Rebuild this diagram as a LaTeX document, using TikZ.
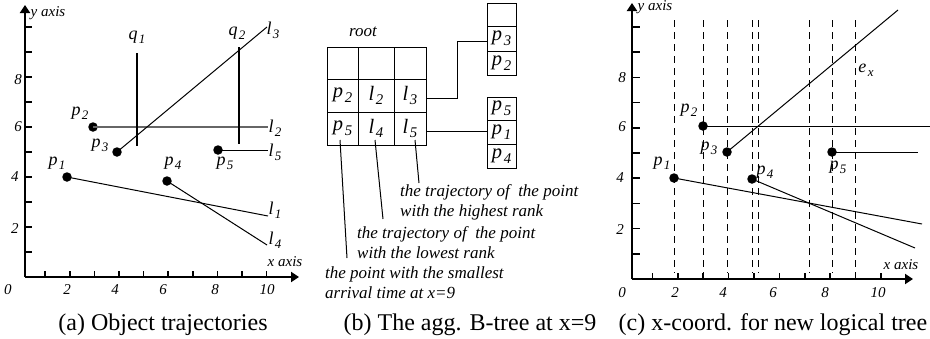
\documentclass[tikz,border=0pt]{standalone}
\usepackage{fontspec}
\setmainfont{Liberation Serif}
\usetikzlibrary{arrows.meta}
\makeatletter
\newcommand{\sbx}[2]{#1\kern0.08em\raisebox{-0.5ex}{\fontsize{\fpeval{0.72*\f@size}}{1}\selectfont #2}}
\makeatother
\begin{document}
\begin{tikzpicture}[x=1pt,y=-1pt,
  lbl/.style={font=\fontsize{18}{20}\selectfont\itshape, inner sep=0pt},
  ital/.style={font=\fontsize{17}{20}\selectfont\itshape, inner sep=0pt, align=left},
  num/.style={font=\fontsize{15}{17}\selectfont\itshape, inner sep=0pt},
  captext/.style={font=\fontsize{24}{26}\selectfont, inner sep=0pt, anchor=base},
  dot/.style={circle, fill=black, inner sep=0pt, minimum size=9.5pt},
  axisline/.style={line width=2pt, -{Triangle[length=8pt,width=10pt]}},
  tickm/.style={line width=1.6pt},
  traj/.style={line width=1pt},
  qbar/.style={line width=2.6pt},
  dashv/.style={line width=1pt, dash pattern=on 7pt off 5pt},
  cell/.style={draw, line width=1pt, inner sep=0pt, font=\fontsize{20.5}{21}\selectfont\itshape},
]
\useasboundingbox (0,0) rectangle (930,338);

% ---------------- panel (a) ----------------
\coordinate (aO) at (25,277);
\coordinate (aY) at (25,5);
\coordinate (aX) at (299,277);
\draw[axisline] (aO) -- (aY);
\draw[axisline] (aO) -- (aX);
\foreach \k in {1,...,10} \draw[tickm] (25,{277-25*\k}) -- ++(7,0);
\foreach \k in {1,...,10} \draw[tickm] ({20.5+24.6*\k},277) -- ++(0,-6);
\node[num] at (48,13) {y axis};
\node[num] at (285,262) {x axis};
\node[num] at (8,290) {0};
\node[num] at (67,290) {2};
\node[num] at (115,290) {4};
\node[num] at (163,290) {6};
\node[num] at (215,290) {8};
\node[num] at (267,290) {10};
\node[num] at (15,229) {2};
\node[num] at (15,177) {4};
\node[num] at (18,127) {6};
\node[num] at (18,80) {8};

\node[dot] (ap1) at (67,177) {};
\node[dot] (ap2) at (93,127) {};
\node[dot] (ap3) at (117,152) {};
\node[dot] (ap4) at (167,181) {};
\node[dot] (ap5) at (218,150) {};
\node[lbl] at (57,163) {\sbx{p}{1}};
\node[lbl] at (80,113) {\sbx{p}{2}};
\node[lbl] at (100,145) {\sbx{p}{3}};
\node[lbl] at (173,163) {\sbx{p}{4}};
\node[lbl] at (225,163) {\sbx{p}{5}};

\coordinate (al1) at (268,216);
\coordinate (al2) at (268,127);
\coordinate (al3) at (267,27);
\coordinate (al4) at (267,245);
\coordinate (al5) at (268,150);
\draw[traj] (ap1.center) -- (al1);
\draw[traj, draw=black!60, line width=1.3pt] (ap2.center) -- (al2);
\draw[traj] (ap3.center) -- (al3);
\draw[traj] (ap4.center) -- (al4);
\draw[traj] (ap5.center) -- (al5);
\node[lbl] at (275,210) {\sbx{l}{1}};
\node[lbl] at (275,128) {\sbx{l}{2}};
\node[lbl] at (273,30) {\sbx{l}{3}};
\node[lbl] at (275,240) {\sbx{l}{4}};
\node[lbl] at (275,152) {\sbx{l}{5}};

\coordinate (q1t) at (137,53);
\coordinate (q1b) at (137,146);
\coordinate (q2t) at (239,47);
\coordinate (q2b) at (239,144);
\draw[qbar] (q1t) -- (q1b);
\draw[qbar] (q2t) -- (q2b);
\node[lbl] at (137,37) {\sbx{q}{1}};
\node[lbl] at (237,33) {\sbx{q}{2}};

\node[captext] at (163,330) {(a) Object trajectories};

% ---------------- panel (b) ----------------
\node[ital] at (363,32) {root};
\node[cell, minimum width=31pt, minimum height=32pt] (c11) at (342.5,63) {};
\node[cell, minimum width=36pt, minimum height=32pt] (c12) at (376,63) {};
\node[cell, minimum width=32pt, minimum height=32pt] (c13) at (410,63) {};
\node[cell, minimum width=31pt, minimum height=33pt] (c21) at (342.5,95.5) {\sbx{p}{2}};
\node[cell, minimum width=36pt, minimum height=33pt] (c22) at (376,95.5) {\sbx{l}{2}};
\node[cell, minimum width=32pt, minimum height=33pt] (c23) at (410,95.5) {\sbx{l}{3}};
\node[cell, minimum width=31pt, minimum height=33pt] (c31) at (342.5,128.5) {\sbx{p}{5}};
\node[cell, minimum width=36pt, minimum height=33pt] (c32) at (376,128.5) {\sbx{l}{4}};
\node[cell, minimum width=32pt, minimum height=33pt] (c33) at (410,128.5) {\sbx{l}{5}};

\node[cell, minimum width=29pt, minimum height=23pt] (n1a) at (501.5,14.5) {};
\node[cell, minimum width=29pt, minimum height=25pt] (n1b) at (501.5,38.5) {\sbx{p}{3}};
\node[cell, minimum width=29pt, minimum height=24pt] (n1c) at (501.5,63) {\sbx{p}{2}};
\node[cell, minimum width=29pt, minimum height=23pt] (n2a) at (501.5,108.5) {\sbx{p}{5}};
\node[cell, minimum width=29pt, minimum height=24pt] (n2b) at (501.5,132) {\sbx{p}{1}};
\node[cell, minimum width=29pt, minimum height=24pt] (n2c) at (501.5,156) {\sbx{p}{4}};

\draw[traj] ([yshift=-2.5pt]c23.east) -- ++(31,0) |- ([yshift=-3pt]n1b.west);
\draw[traj] ([yshift=-2.5pt]c33.east) -- ([yshift=-2.5pt]c33.east -| n2b.west);

\coordinate (s1) at (340,140);
\coordinate (s2) at (375,140);
\coordinate (s3) at (415,140);
\coordinate (e1) at (347,258);
\coordinate (e2) at (383,219);
\coordinate (e3) at (419,183);
\draw[traj] (s1) -- (e1);
\draw[traj] (s2) -- (e2);
\draw[traj] (s3) -- (e3);
\node[ital, anchor=west] at (400,202) {the trajectory of\ \ the point\\with the highest rank};
\node[ital, anchor=west] at (357,243) {the trajectory of\ \ the point\\with the lowest rank};
\node[ital, anchor=west] at (325,283) {the point with the smallest\\arrival time at x=9};

\node[captext] at (470,330) {(b) The agg. B-tree at x=9};

% ---------------- panel (c) ----------------
\coordinate (cO) at (632,279);
\coordinate (cY) at (632,3);
\coordinate (cX) at (913,279);
\foreach \x in {674,703,727,752,758,809,832,855} \draw[dashv] (\x,20) -- (\x,273);
\draw[axisline] (cO) -- (cY);
\draw[axisline] (cO) -- (cX);
\foreach \k in {1,...,10} \draw[tickm] (632,{279-25.2*\k}) -- ++(8,0);
\foreach \k in {1,...,10} \draw[tickm] ({627+25.4*\k},279) -- ++(0,-6);
\node[num] at (655,7) {y axis};
\node[num] at (901,265) {x axis};
\node[num] at (622,293) {0};
\node[num] at (675,293) {2};
\node[num] at (723,293) {4};
\node[num] at (773,293) {6};
\node[num] at (825,293) {8};
\node[num] at (878,293) {10};
\node[num] at (620,230) {2};
\node[num] at (620,178) {4};
\node[num] at (622,127) {6};
\node[num] at (622,78) {8};

\node[dot] (cp1) at (674,178) {};
\node[dot] (cp2) at (703,126) {};
\node[dot] (cp3) at (727,152) {};
\node[dot] (cp4) at (752,179) {};
\node[dot] (cp5) at (832,152) {};
\coordinate (cl1) at (922,224);
\coordinate (cl2) at (930,126);
\coordinate (cl3) at (898,10);
\coordinate (cl4) at (915,248);
\coordinate (cl5) at (918,152);
\draw[traj] (cp1.center) -- (cl1);
\draw[traj] (cp2.center) -- (cl2);
\draw[traj] (cp3.center) -- (cl3);
\draw[traj] (cp4.center) -- (cl4);
\draw[traj] (cp5.center) -- (cl5);
\node[lbl] at (662,163) {\sbx{p}{1}};
\node[lbl] at (689,110) {\sbx{p}{2}};
\node[lbl] at (709,148) {\sbx{p}{3}};
\node[lbl] at (765,172) {\sbx{p}{4}};
\node[lbl] at (838,167) {\sbx{p}{5}};
\node[lbl] at (866,70) {\sbx{e}{x}};

\node[captext] at (773,330) {(c) x-coord. for new logical tree};
\end{tikzpicture}
\end{document}
